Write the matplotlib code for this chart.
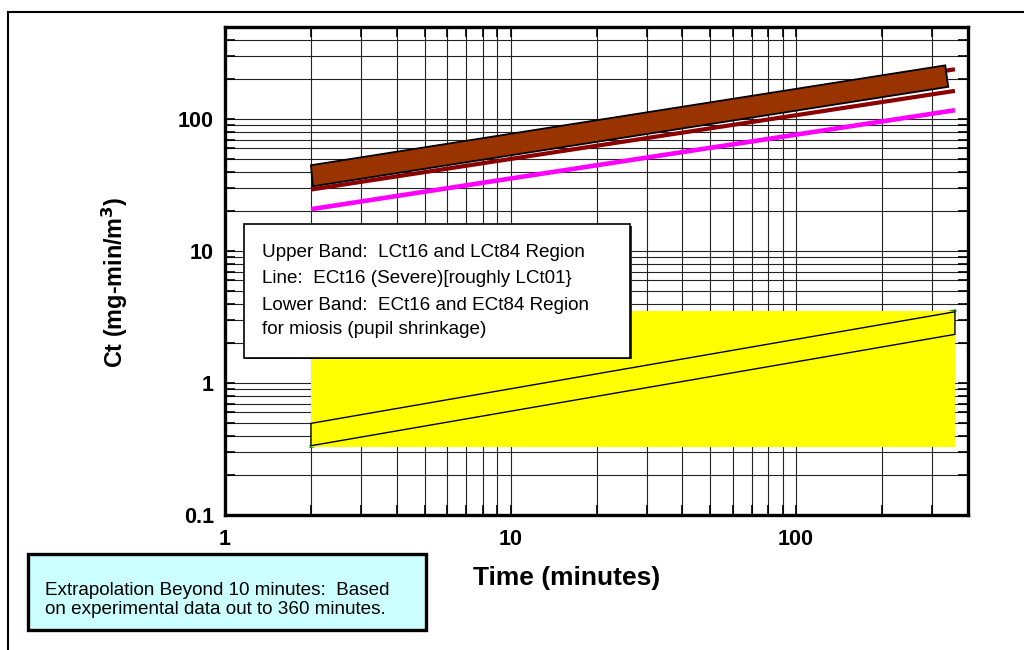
import matplotlib
matplotlib.use("Agg")
import matplotlib.pyplot as plt
from matplotlib.patches import Polygon, Rectangle
from matplotlib.ticker import FixedLocator, NullFormatter

plt.rcParams['font.family'] = ['Liberation Sans', 'DejaVu Sans']

# time span of the curves (minutes)
time_span = [2, 360]

# LCt16 / LCt84 lines (dark red) and ECt16 severe line (magenta)
lct16 = [29.3, 164]
lct84 = [43, 239]
ect16_severe = [20.8, 117]

# upper band corners (time, Ct)
upper_band_t = [2, 333, 341, 2.03]
upper_band_ct = [44.8, 256, 176, 31.0]

# yellow miosis region and the inner band
miosis_t = [2, 360]
miosis_low = 0.33
miosis_high = 3.53
lower_band_t = [2, 360, 360, 2]
lower_band_ct = [0.495, 3.47, 2.34, 0.335]

x_ticks = [1, 10, 100]
x_tick_labels = ["1", "10", "100"]
y_ticks = [0.1, 1, 10, 100]
y_tick_labels = ["0.1", "1", "10", "100"]

legend_lines = [
    "Upper Band:  LCt16 and LCt84 Region",
    "Line:  ECt16 (Severe)[roughly LCt01}",
    "Lower Band:  ECt16 and ECt84 Region",
    "for miosis (pupil shrinkage)",
]
note_lines = [
    "Extrapolation Beyond 10 minutes:  Based",
    "on experimental data out to 360 minutes.",
]

W, H = 1024, 650
fig = plt.figure(figsize=(W / 100, H / 100), dpi=100)


def fx(px):
    return px / W


def fy(py):
    return 1 - py / H


ax = fig.add_axes([fx(225), fy(515), fx(968) - fx(225), fy(27) - fy(515)])
ax.set_xscale("log")
ax.set_yscale("log")
ax.set_xlim(1, 400)
ax.set_ylim(0.1, 500)

# grid
ax.set_axisbelow(True)
ax.grid(True, which="both", color="#222222", linewidth=0.8)

# lower (yellow) region
ax.plot(miosis_t, [miosis_low, miosis_high], color="#008000", linewidth=2, zorder=1.5)
ax.fill_between(miosis_t, miosis_low, miosis_high, color="#FFFF00", linewidth=0, zorder=2)
ax.add_patch(Polygon(list(zip(lower_band_t, lower_band_ct)), closed=True,
                     facecolor="#FFFF00", edgecolor="black", linewidth=1, zorder=3))

# upper band lines and band
ax.plot(time_span, lct16, color="#8B0000", linewidth=3, solid_capstyle="butt", zorder=3)
ax.plot(time_span, lct84, color="#8B0000", linewidth=3, solid_capstyle="butt", zorder=3)
ax.add_patch(Polygon(list(zip(upper_band_t, upper_band_ct)), closed=True,
                     facecolor="#993300", edgecolor="black", linewidth=1.3, zorder=4))
ax.plot(time_span, ect16_severe, color="#FF00FF", linewidth=3.3, solid_capstyle="butt", zorder=4)

# axes styling
for s in ax.spines.values():
    s.set_linewidth(2.4)
ax.xaxis.set_major_locator(FixedLocator(x_ticks))
ax.set_xticklabels(x_tick_labels)
ax.yaxis.set_major_locator(FixedLocator(y_ticks))
ax.set_yticklabels(y_tick_labels)
ax.xaxis.set_minor_formatter(NullFormatter())
ax.yaxis.set_minor_formatter(NullFormatter())
ax.tick_params(which="both", direction="in", length=7, width=1.2,
               top=True, right=True, labelsize=15.5)
ax.tick_params(axis="x", pad=10)
ax.tick_params(axis="y", pad=8)
for lbl in ax.get_xticklabels() + ax.get_yticklabels():
    lbl.set_fontweight("bold")

# axis titles
fig.text(fx(567), fy(578), "Time (minutes)", fontsize=19, fontweight="bold",
         ha="center", va="center")
fig.text(fx(115), fy(282), "Ct (mg-min/m$^\\mathbf{3}$)", fontsize=16.8, fontweight="bold",
         rotation=90, ha="center", va="center")

# legend box
fig.patches.append(Rectangle((fx(246), fy(359.5)), fx(630) - fx(244), fy(224) - fy(357.7),
                             transform=fig.transFigure, facecolor="#333333",
                             edgecolor="none", zorder=5))
fig.patches.append(Rectangle((fx(244), fy(357.7)), fx(630) - fx(244), fy(224) - fy(357.7),
                             transform=fig.transFigure, facecolor="white",
                             edgecolor="black", linewidth=1.2, zorder=6))
for txt, base in zip(legend_lines, [256.7, 283.3, 310, 334]):
    fig.text(fx(262), fy(base), txt, fontsize=13.6, va="baseline", ha="left", zorder=7)

# note box
fig.patches.append(Rectangle((fx(28), fy(630)), fx(426) - fx(28), fy(554) - fy(630),
                             transform=fig.transFigure, facecolor="#CCFFFF",
                             edgecolor="black", linewidth=2.4, zorder=6))
for txt, base in zip(note_lines, [595, 614]):
    fig.text(fx(45), fy(base), txt, fontsize=13.6, va="baseline", ha="left", zorder=7)

# outer frame (left and top)
fig.add_artist(plt.Line2D([fx(8), fx(8)], [fy(12), 0], transform=fig.transFigure,
                          color="black", linewidth=1.5))
fig.add_artist(plt.Line2D([fx(8), 1], [fy(12), fy(12)], transform=fig.transFigure,
                          color="black", linewidth=1.5))

fig.savefig("out.png", dpi=100)
